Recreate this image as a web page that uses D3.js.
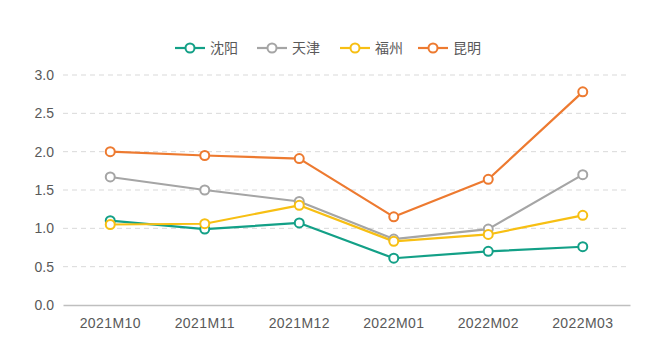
<!DOCTYPE html>
<html><head><meta charset="utf-8">
<script src="https://cdn.jsdelivr.net/npm/d3@7"></script>
<style>
html,body{margin:0;padding:0;background:#fff;}
svg{display:block;font-family:"Open Sans","Noto Sans CJK SC",sans-serif;}
</style></head>
<body>
<svg id="chart" width="658" height="357"></svg>
<script>
const categories = ["2021M10","2021M11","2021M12","2022M01","2022M02","2022M03"];
const seriesNames = ["沈阳","天津","福州","昆明"];
const shenyang = [1.10, 0.99, 1.07, 0.61, 0.70, 0.76];
const tianjin  = [1.67, 1.50, 1.35, 0.86, 0.99, 1.70];
const fuzhou   = [1.05, 1.06, 1.30, 0.83, 0.92, 1.17];
const kunming  = [2.00, 1.95, 1.91, 1.15, 1.64, 2.78];
const yTicks = [0, 0.5, 1.0, 1.5, 2.0, 2.5, 3.0];
const colors = ["#13a087","#a5a5a5","#f7bf13","#ed7a30"];

(function(){
const series = [shenyang, tianjin, fuzhou, kunming].map((v,i)=>({name:seriesNames[i], values:v, color:colors[i]}));

const svg = d3.select("#chart");
const mLeft = 63, mRight = 630, mTop = 75, mBottom = 305;

const x = d3.scaleBand().domain(categories).range([mLeft, mRight]);
const y = d3.scaleLinear().domain([0, 3]).range([mBottom, mTop]);

svg.append("g").selectAll("line").data(yTicks.filter(d=>d>0)).join("line")
  .attr("x1", mLeft).attr("x2", mRight - 2)
  .attr("y1", d=>y(d)).attr("y2", d=>y(d))
  .attr("stroke", "#d9d9d9").attr("stroke-width", 1).attr("stroke-dasharray", "5,4");

const yAxis = d3.axisLeft(y).tickValues(yTicks).tickFormat(d3.format(".1f")).tickSize(0).tickPadding(9);
const yg = svg.append("g").attr("transform", `translate(${mLeft},0)`).call(yAxis);
yg.select(".domain").remove();
yg.selectAll("text").attr("fill", "#595959").style("font-size", "14px");

const xAxis = d3.axisBottom(x).tickSize(0).tickPadding(13);
const xg = svg.append("g").attr("transform", `translate(0,${mBottom})`).call(xAxis);
xg.select(".domain").attr("stroke", "#bfbfbf").attr("stroke-width", 1.3);
xg.selectAll("text").attr("fill", "#595959").style("font-size", "14px").style("letter-spacing", "0.4px");

const line = d3.line().x((d,i)=>x(categories[i]) + x.bandwidth()/2).y(d=>y(d));

series.forEach(s=>{
  svg.append("path").datum(s.values).attr("d", line)
    .attr("fill","none").attr("stroke", s.color).attr("stroke-width", 2.2)
    .attr("stroke-linejoin","round");
});
series.forEach(s=>{
  svg.append("g").selectAll("circle").data(s.values).join("circle")
    .attr("cx", (d,i)=>x(categories[i]) + x.bandwidth()/2)
    .attr("cy", d=>y(d)).attr("r", 4.5)
    .attr("fill","#fff").attr("stroke", s.color).attr("stroke-width", 2);
});

const legendX = [175, 257, 340, 418];
const ly = 48;
const lg = svg.append("g");
series.forEach((s,i)=>{
  const gx = legendX[i];
  lg.append("line").attr("x1", gx).attr("x2", gx+30).attr("y1", ly).attr("y2", ly)
    .attr("stroke", s.color).attr("stroke-width", 2.2);
  lg.append("circle").attr("cx", gx+15).attr("cy", ly).attr("r", 4.5)
    .attr("fill","#fff").attr("stroke", s.color).attr("stroke-width", 2);
  lg.append("text").attr("x", gx+35).attr("y", ly).attr("dy","0.35em")
    .attr("fill","#595959").style("font-size","14px")
    .style("font-family","'Noto Sans CJK SC',sans-serif").text(s.name);
});
})();
</script>
</body></html>
